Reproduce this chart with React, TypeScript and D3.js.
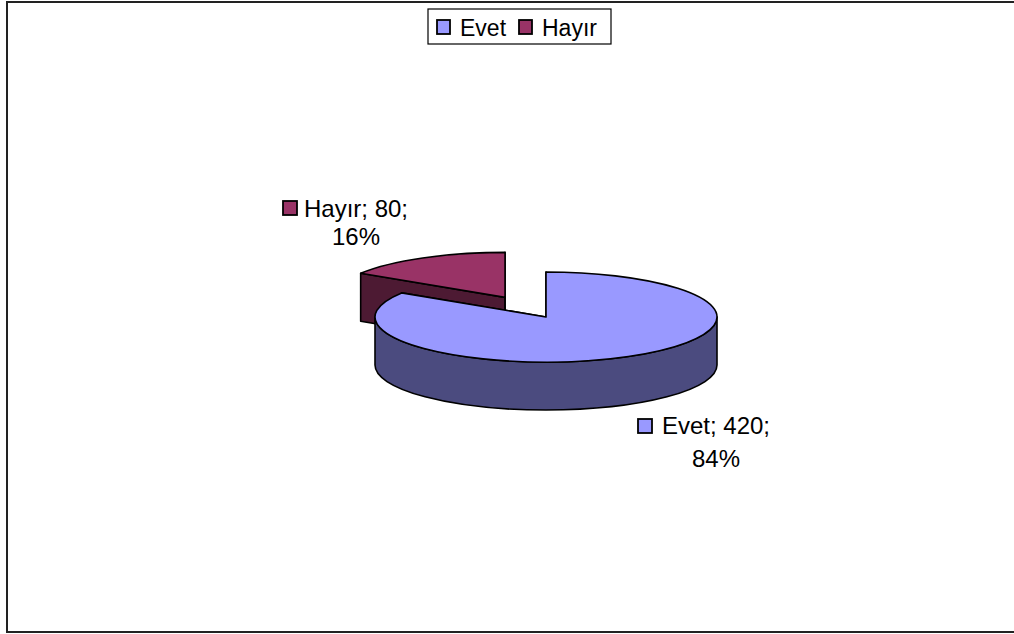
import React from 'react';
import * as d3 from 'd3';

const categories: string[] = ['Evet', 'Hayır'];
const values: number[] = [420, 80];
const percentLabels: string[] = ['84%', '16%'];
const topColors: string[] = ['#9999FF', '#993366'];
const sideColors: string[] = ['#4B4B7F', '#4D1A33'];
const explodeDist: number[] = [0, 85];

export default function App() {
  const W = 1014, H = 634;
  const cx = 546, cy = 317, rx = 171, ry = 45, depth = 48;
  const pie = d3.pie<number>().sort(null).value((d) => d);
  const arcs = pie(values);

  const slices = arcs.map((a, i) => {
    const mid = (a.startAngle + a.endAngle) / 2;
    const ox = explodeDist[i] * Math.sin(mid);
    const oy = -explodeDist[i] * Math.cos(mid) * (ry / rx);
    const ccx = cx + ox, ccy = cy + oy;
    const pt = (ang: number, dz = 0): [number, number] => [ccx + rx * Math.sin(ang), ccy - ry * Math.cos(ang) + dz];
    const s = a.startAngle, e = a.endAngle;
    const large = e - s > Math.PI ? 1 : 0;
    const [sx, sy] = pt(s), [ex, ey] = pt(e);
    const top = `M${ccx},${ccy}L${sx},${sy}A${rx},${ry} 0 ${large} 1 ${ex},${ey}Z`;
    const radial = (ang: number) => {
      const [px, py] = pt(ang);
      return `M${ccx},${ccy}L${px},${py}L${px},${py + depth}L${ccx},${ccy + depth}Z`;
    };
    const faces: string[] = [radial(s), radial(e)];
    const w0 = Math.max(s, Math.PI / 2), w1 = Math.min(e, (3 * Math.PI) / 2);
    if (w1 > w0) {
      const [ax, ay] = pt(w0), [bx, by] = pt(w1);
      const lg = w1 - w0 > Math.PI ? 1 : 0;
      faces.push(`M${ax},${ay}A${rx},${ry} 0 ${lg} 1 ${bx},${by}L${bx},${by + depth}A${rx},${ry} 0 ${lg} 0 ${ax},${ay + depth}Z`);
    }
    return { i, top, faces };
  });

  // draw back slice (exploded Hayır) first
  const order = [1, 0];
  const font = 'Liberation Sans, Arial, sans-serif';

  const labelDefs = [
    { i: 0, keyX: 638, keyY: 419, cx: 716, b1: 434, b2: 467 },
    { i: 1, keyX: 283, keyY: 201, cx: 356, b1: 217, b2: 245 },
  ];

  return (
    <svg width={W} height={H} style={{ position: 'absolute', left: 0, top: 0, background: '#fff' }}>
      <rect x={7} y={2} width={1020} height={630} fill="#fff" stroke="#222" strokeWidth={2} />
      {order.map((k) => {
        const sl = slices[k];
        return (
          <g key={k}>
            {sl.faces.map((f, j) => (
              <path key={j} d={f} fill={sideColors[k]} stroke="#000" strokeWidth={1.6} strokeLinejoin="round" />
            ))}
            <path d={sl.top} fill={topColors[k]} stroke="#000" strokeWidth={1.6} strokeLinejoin="round" />
          </g>
        );
      })}
      {/* legend */}
      <rect x={428} y={9} width={183} height={35} fill="#fff" stroke="#000" strokeWidth={1.2} />
      {categories.map((c, i) => {
        const x0 = i === 0 ? 437 : 519;
        return (
          <g key={c}>
            <rect x={x0} y={20} width={13} height={14} fill={topColors[i]} stroke="#000" strokeWidth={1.8} />
            <text x={x0 + 23} y={36} fontFamily={font} fontSize={23} fill="#000">{c}</text>
          </g>
        );
      })}
      {/* data labels */}
      {labelDefs.map((l) => (
        <g key={l.i}>
          <rect x={l.keyX} y={l.keyY} width={14} height={14} fill={topColors[l.i]} stroke="#000" strokeWidth={1.8} />
          <text x={l.cx} y={l.b1} textAnchor="middle" fontFamily={font} fontSize={24} fill="#000">
            {`${categories[l.i]}; ${values[l.i]};`}
          </text>
          <text x={l.cx} y={l.b2} textAnchor="middle" fontFamily={font} fontSize={24} fill="#000">
            {percentLabels[l.i]}
          </text>
        </g>
      ))}
    </svg>
  );
}
